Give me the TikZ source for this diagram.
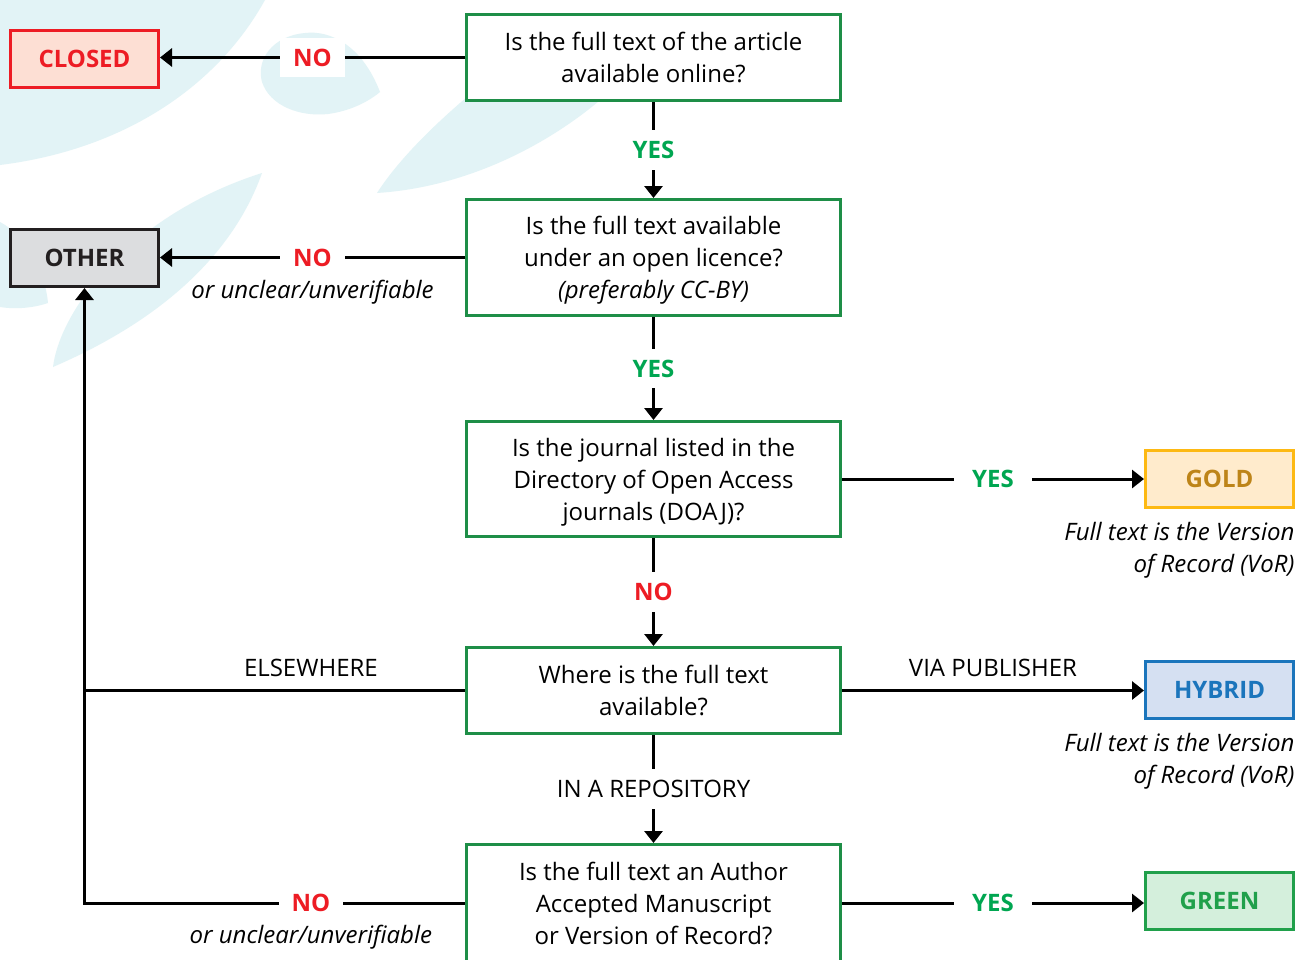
\documentclass[tikz,border=0pt]{standalone}
\usepackage{fontspec}
\setmainfont{Open Sans}
\usetikzlibrary{arrows.meta,positioning}

\definecolor{qgreen}{HTML}{1E8E47}
\definecolor{yesgreen}{HTML}{00A651}
\definecolor{nored}{HTML}{ED1C24}
\definecolor{blob}{HTML}{E2F3F6}
\definecolor{closedfill}{HTML}{FDDFD4}
\definecolor{otherfill}{HTML}{DCDDDF}
\definecolor{otherline}{HTML}{231F20}
\definecolor{goldfill}{HTML}{FFEBCC}
\definecolor{goldline}{HTML}{FDB913}
\definecolor{goldtext}{HTML}{BD8418}
\definecolor{hybridfill}{HTML}{D5E0F2}
\definecolor{hybridline}{HTML}{1B75BC}
\definecolor{greenfill}{HTML}{D4EFDC}
\definecolor{greenline}{HTML}{20A04B}

\newcommand{\flowfont}{\fontsize{24}{32}\selectfont}

\tikzset{
  question/.style={draw=qgreen, line width=3pt, fill=white, minimum width=374pt, align=center, text depth=-2pt},
  result/.style={line width=3pt, minimum width=148pt, minimum height=57pt, font=\flowfont\bfseries},
  conn/.style={line width=3pt},
  arr/.style={conn, -{Triangle[length=12pt,width=18pt]}},
  lbl/.style={fill=white, inner xsep=13pt, inner ysep=11pt, font=\flowfont\bfseries},
  nolbl/.style={lbl, text=nored},
  yeslbl/.style={lbl, text=yesgreen, inner xsep=18pt},
  note/.style={font=\flowfont\itshape, align=right},
}

\begin{document}
\begin{tikzpicture}[x=1pt, y=-1pt, font=\flowfont]
    \clip (0,0) rectangle (1308,959);
    \fill[white] (0,0) rectangle (1308,959);

    % background leaves
    \fill[blob] (0,0) -- (265,0) .. controls (215,90) and (120,150) .. (0,165) -- cycle;
    \fill[blob] (380,92) .. controls (362,45) and (330,30) .. (305,33) .. controls (272,36) and (256,60) .. (262,82) .. controls (270,106) and (300,117) .. (328,114) .. controls (350,111) and (368,102) .. (380,92) -- cycle;
    \fill[blob] (377,193) .. controls (395,165) and (430,125) .. (500,70) -- (640,60) .. controls (600,110) and (500,185) .. (377,193) -- cycle;
    \fill[blob] (53,367) .. controls (60,310) and (130,215) .. (262,173) .. controls (240,235) and (185,310) .. (53,367) -- cycle;
    \fill[blob] (0,222) .. controls (25,235) and (45,270) .. (48,303) .. controls (30,309) and (12,309) .. (0,307) -- cycle;

    % questions
    \node[question, minimum height=86pt] (q1) at (653.5,57.5) {Is the full text of the article\\available online?};
    \node[question, minimum height=116pt] (q2) at (653.5,257.5) {Is the full text available\\under an open licence?\\\textit{(preferably CC-BY)}};
    \node[question, minimum height=115pt] (q3) at (653.5,479) {Is the journal listed in the\\Directory of Open Access\\journals (DOAJ)?};
    \node[question, minimum height=86pt] (q4) at (653.5,690.5) {Where is the full text\\available?};
    \node[question, minimum height=117pt] (q5) at (653.5,903) {Is the full text an Author\\Accepted Manuscript\\or Version of Record?};

    % results
    \node[result, draw=nored, fill=closedfill, text=nored] (closed) at (84.5,58.5) {CLOSED};
    \node[result, draw=otherline, fill=otherfill, text=otherline] (other) at (84.5,258) {OTHER};
    \node[result, draw=goldline, fill=goldfill, text=goldtext] (gold) at (1219.5,479) {GOLD};
    \node[result, draw=hybridline, fill=hybridfill, text=hybridline] (hybrid) at (1219.5,689.5) {HYBRID};
    \node[result, draw=greenline, fill=greenfill, text=greenline] (green) at (1219.5,901) {GREEN};

    % notes
    \node[note, anchor=north east] (goldnote) at ([xshift=3pt,yshift=-10pt]gold.south east) {Full text is the Version\\of Record (VoR)};
    \node[note, anchor=north east] (hybridnote) at ([xshift=3pt,yshift=-10pt]hybrid.south east) {Full text is the Version\\of Record (VoR)};

    % connectors
    \draw[arr] (q1.west) -- node[nolbl] {NO} (q1.west -| closed.east);
    \draw[arr] (q1) -- node[yeslbl] {YES} (q2);
    \draw[arr] (q2.west) -- node[nolbl] (no2) {NO} (q2.west -| other.east);
    \node[note, anchor=base] at ([yshift=-32pt]no2.base) {or unclear/unverifiable};
    \draw[arr] (q2) -- node[yeslbl] {YES} (q3);
    \draw[arr] (q3) -- node[yeslbl] {YES} (gold);
    \draw[arr] (q3) -- node[nolbl] {NO} (q4);
    \draw[arr] (q4.east) -- node[above=9pt] {VIA PUBLISHER} (q4.east -| hybrid.west);
    \draw[arr] (q4) -- node[lbl, font=\flowfont] {IN A REPOSITORY} (q5);
    \draw[arr] (q5.east) -- node[yeslbl] {YES} (q5.east -| green.west);
    \draw[conn] (q4.west) -- node[pos=0.405, above=9pt] {ELSEWHERE} (q4.west -| other.south);
    \draw[arr] (q5.west) -- node[nolbl, pos=0.405] (no5) {NO} (q5.west -| other.south) -- (other.south);
    \node[note, anchor=base] at ([yshift=-32pt]no5.base) {or unclear/unverifiable};
\end{tikzpicture}
\end{document}
